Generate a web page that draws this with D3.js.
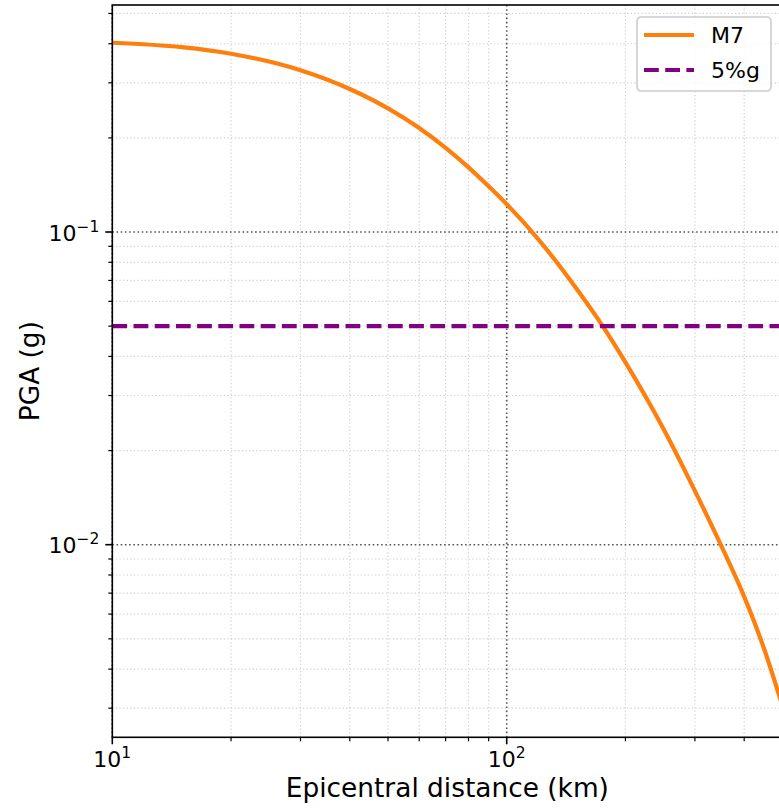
<!DOCTYPE html>
<html>
<head>
<meta charset="utf-8">
<script src="https://cdn.jsdelivr.net/npm/d3@7"></script>
<style>
  body { margin: 0; background: #fff; }
  svg { display: block; font-family: "DejaVu Sans", sans-serif; }
</style>
</head>
<body>
<svg id="chart" width="779" height="809"></svg>
<script>
// values (km, g)
const distKm = [10, 15, 20, 30, 40, 50, 60, 70, 80, 90, 100, 120, 150, 175, 200, 250, 300, 350, 400, 450, 500];
const pgaM7 = [0.403, 0.390, 0.3715, 0.329, 0.2866, 0.2485, 0.2151, 0.1858, 0.1610, 0.1400, 0.1227, 0.0951, 0.0661, 0.0501, 0.0383, 0.0234, 0.01486, 0.00991, 0.00682, 0.00462, 0.00305];
const threshold = 0.05;
const seriesNames = ["M7", "5%g"];
const xMajor = [10, 100];
const xMinor = [20, 30, 40, 50, 60, 70, 80, 90, 200, 300, 400];
const yMajor = [0.1, 0.01];
const yMinor = [0.003, 0.004, 0.005, 0.006, 0.007, 0.008, 0.009, 0.02, 0.03, 0.04, 0.05, 0.06, 0.07, 0.08, 0.09, 0.2, 0.3, 0.4, 0.5];

(function() {
    const svg = d3.select('#chart');
    const pL = 112.3, pR = 782.4, pT = 5, pB = 737.3;

    const x = d3.scaleLog().domain([10, 500]).range([pL, pR]);
    const y = d3.scaleLog().domain([Math.pow(10, -2.616), Math.pow(10, -0.274)]).range([pB, pT]);

    // grid
    const grid = svg.append('g');
    const vgrid = (vals, col, w, dash) => grid.selectAll(null).data(vals).enter().append('line')
        .attr('x1', d => x(d)).attr('x2', d => x(d)).attr('y1', pT).attr('y2', pB)
        .attr('stroke', col).attr('stroke-width', w).attr('stroke-dasharray', dash);
    const hgrid = (vals, col, w, dash) => grid.selectAll(null).data(vals).enter().append('line')
        .attr('y1', d => y(d)).attr('y2', d => y(d)).attr('x1', pL).attr('x2', pR)
        .attr('stroke', col).attr('stroke-width', w).attr('stroke-dasharray', dash);
    vgrid(xMinor, '#cfcfcf', 1.2, '1.2,2.4');
    hgrid(yMinor, '#cfcfcf', 1.2, '1.2,2.4');
    vgrid(xMajor, '#555', 1.6, '1.6,2.6');
    hgrid(yMajor, '#555', 1.6, '1.6,2.6');

    // data lines
    const line = d3.line()
        .x((d, i) => x(distKm[i]))
        .y(d => y(d))
        .curve(d3.curveMonotoneX);

    svg.append('path')
        .attr('d', line(pgaM7))
        .attr('fill', 'none')
        .attr('stroke', '#ff7f0e')
        .attr('stroke-width', 4.2);

    svg.append('line')
        .attr('x1', pL).attr('x2', pR)
        .attr('y1', y(threshold)).attr('y2', y(threshold))
        .attr('stroke', 'purple')
        .attr('stroke-width', 4.2)
        .attr('stroke-dasharray', '14.8,6.4');

    // spines
    svg.append('rect')
        .attr('x', pL).attr('y', pT)
        .attr('width', pR - pL).attr('height', pB - pT)
        .attr('fill', 'none').attr('stroke', '#000').attr('stroke-width', 1.6);

    // ticks
    const ticks = svg.append('g').attr('stroke', '#000');
    xMajor.forEach(d => ticks.append('line').attr('x1', x(d)).attr('x2', x(d)).attr('y1', pB).attr('y2', pB + 7).attr('stroke-width', 1.6));
    xMinor.forEach(d => ticks.append('line').attr('x1', x(d)).attr('x2', x(d)).attr('y1', pB).attr('y2', pB + 4).attr('stroke-width', 1.2));
    yMajor.forEach(d => ticks.append('line').attr('y1', y(d)).attr('y2', y(d)).attr('x1', pL).attr('x2', pL - 7).attr('stroke-width', 1.6));
    yMinor.forEach(d => ticks.append('line').attr('y1', y(d)).attr('y2', y(d)).attr('x1', pL).attr('x2', pL - 4).attr('stroke-width', 1.2));

    // tick labels with superscript exponents
    const expLabel = (g, d) => {
        const e = Math.round(Math.log10(d));
        g.append('tspan').text('10');
        g.append('tspan').attr('dy', -9).attr('font-size', 15.5).text(e < 0 ? '\u2212' + (-e) : String(e));
    };
    xMajor.forEach(d => {
        const t = svg.append('text').attr('x', x(d)).attr('y', pB + 30)
            .attr('text-anchor', 'middle').attr('font-size', 22);
        expLabel(t, d);
    });
    yMajor.forEach(d => {
        const t = svg.append('text').attr('x', pL - 13).attr('y', y(d) + 8.5)
            .attr('text-anchor', 'end').attr('font-size', 22);
        expLabel(t, d);
    });

    // axis labels
    svg.append('text')
        .attr('x', (pL + pR) / 2).attr('y', 797)
        .attr('text-anchor', 'middle').attr('font-size', 26.4)
        .text('Epicentral distance (km)');
    svg.append('text')
        .attr('transform', `translate(39,${(pT + pB) / 2}) rotate(-90)`)
        .attr('text-anchor', 'middle').attr('font-size', 26.4)
        .text('PGA (g)');

    // legend
    const lg = svg.append('g').attr('transform', 'translate(637,17)');
    lg.append('rect')
        .attr('width', 134).attr('height', 74).attr('rx', 4)
        .attr('fill', '#fff').attr('fill-opacity', 0.8)
        .attr('stroke', '#ccc').attr('stroke-width', 1.6);
    lg.append('line').attr('x1', 7).attr('x2', 57).attr('y1', 18).attr('y2', 18)
        .attr('stroke', '#ff7f0e').attr('stroke-width', 4.2);
    lg.append('line').attr('x1', 7).attr('x2', 57).attr('y1', 53).attr('y2', 53)
        .attr('stroke', 'purple').attr('stroke-width', 4.2).attr('stroke-dasharray', '14.8,6.4');
    lg.selectAll(null).data(seriesNames).enter().append('text')
        .attr('x', 74).attr('y', (d, i) => 26 + i * 35)
        .attr('font-size', 22)
        .text(d => d);
})();
</script>
</body>
</html>
